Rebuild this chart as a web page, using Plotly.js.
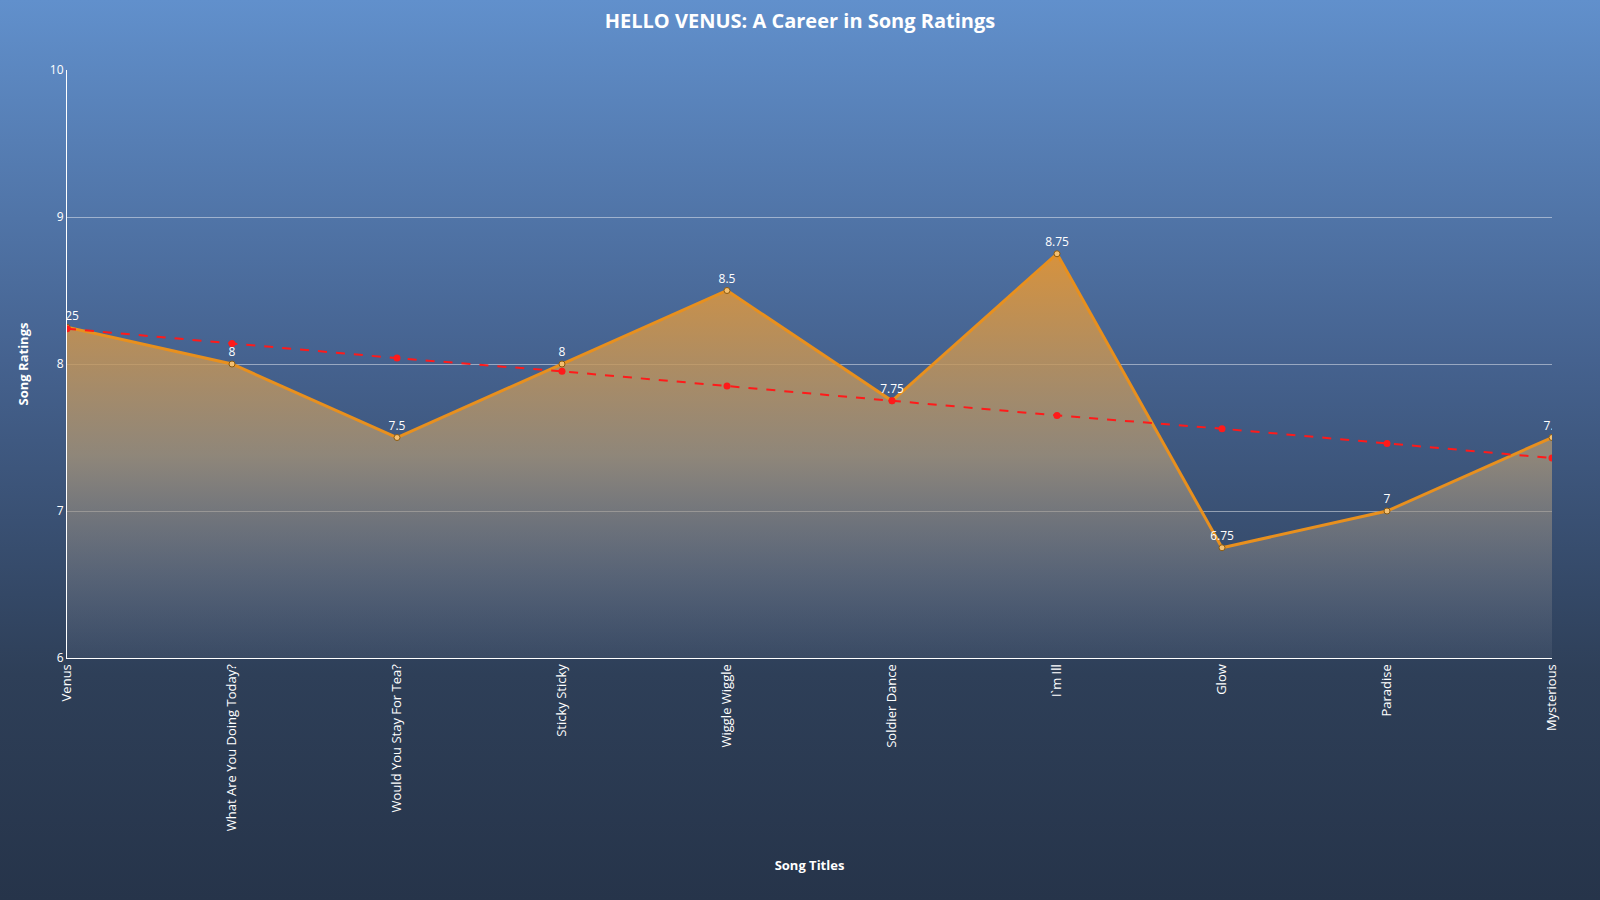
<!DOCTYPE html>
<html>
<head>
<meta charset="utf-8">
<script src="https://cdn.plot.ly/plotly-3.0.1.min.js"></script>
<style>
  html, body { margin: 0; padding: 0; }
  body { width: 1600px; height: 900px; background: linear-gradient(to bottom, #6190cc 0%, #45628f 40%, #2e3f58 75%, #26344a 100%); }
  #chart { width: 1600px; height: 900px; }
</style>
</head>
<body>
<div id="chart"></div>
<script>
// song ratings
const songs = ['Venus', 'What Are You Doing Today?', 'Would You Stay For Tea?', 'Sticky Sticky',
  'Wiggle Wiggle', 'Soldier Dance', 'I`m Ill', 'Glow', 'Paradise', 'Mysterious'];
const ratings = [8.25, 8, 7.5, 8, 8.5, 7.75, 8.75, 6.75, 7, 7.5];
const trend = [8.24, 8.14, 8.04, 7.95, 7.85, 7.75, 7.65, 7.56, 7.46, 7.36];

const ratingTrace = {
  x: songs,
  y: ratings,
  type: 'scatter',
  mode: 'lines+markers+text',
  fill: 'tozeroy',
  fillgradient: {
    type: 'vertical',
    start: 6,
    stop: 8.75,
    colorscale: [[0, 'rgba(120,130,150,0.15)'], [0.5, 'rgba(170,150,120,0.75)'], [1, 'rgba(230,150,50,0.9)']],
  },
  line: { color: '#e8901e', width: 3 },
  marker: { color: '#f5c070', size: 6, line: { color: '#8a5a10', width: 1 } },
  text: ratings.map(String),
  textposition: 'top center',
  textfont: { color: '#ffffff', size: 12 },
  hoverinfo: 'x+y',
};

const trendTrace = {
  x: songs,
  y: trend,
  type: 'scatter',
  mode: 'lines+markers',
  line: { color: '#ff1a1a', width: 2, dash: 'dash' },
  marker: { color: '#ff1a1a', size: 7 },
};

const layout = {
  width: 1600,
  height: 900,
  paper_bgcolor: 'rgba(0,0,0,0)',
  plot_bgcolor: 'rgba(0,0,0,0)',
  showlegend: false,
  font: { family: 'Open Sans, Noto Sans, sans-serif', color: '#ffffff', size: 12 },
  margin: { l: 67, r: 48, t: 70, b: 242 },
  title: {
    text: '<b>HELLO VENUS: A Career in Song Ratings</b>',
    x: 0.5,
    y: 0.985,
    yanchor: 'top',
    font: { size: 20, color: '#ffffff' },
  },
  xaxis: {
    title: { text: '<b>Song Titles</b>', font: { size: 13 }, standoff: 30 },
    tickangle: -90,
    showgrid: false,
    showline: true,
    linecolor: '#ffffff',
    linewidth: 1,
    range: [0, 9],
    tickfont: { size: 13 },
  },
  yaxis: {
    title: { text: '<b>Song Ratings</b>', font: { size: 13 }, standoff: 18 },
    range: [6, 10],
    dtick: 1,
    gridcolor: 'rgba(255,255,255,0.45)',
    showline: true,
    linecolor: '#ffffff',
    zeroline: false,
    tickfont: { size: 12 },
  },
};

Plotly.newPlot('chart', [ratingTrace, trendTrace], layout, { displayModeBar: false });
</script>
</body>
</html>
